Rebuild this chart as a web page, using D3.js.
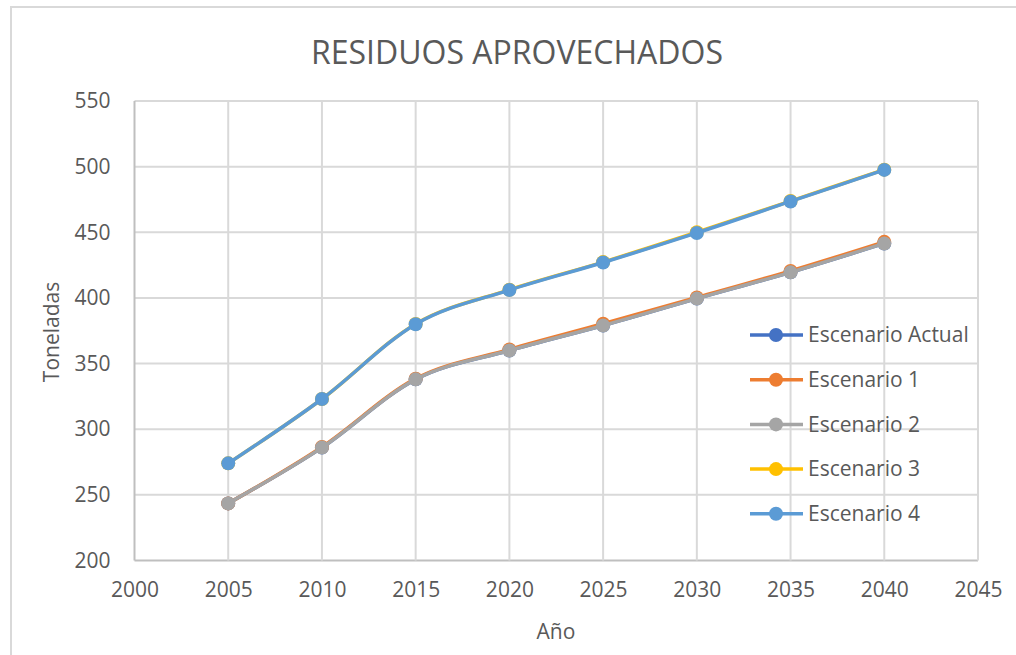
<!DOCTYPE html>
<html>
<head>
<meta charset="utf-8">
<script src="https://cdn.jsdelivr.net/npm/d3@7"></script>
<style>
  html, body { margin: 0; padding: 0; background: #fff; }
  svg { display: block; }
</style>
</head>
<body>
<script>
'use strict';

const WIDTH = 1016;
const HEIGHT = 655;

const TITLE = 'RESIDUOS APROVECHADOS';
const X_TITLE = 'Año';
const Y_TITLE = 'Toneladas';

const YEARS = [2005, 2010, 2015, 2020, 2025, 2030, 2035, 2040];
const X_TICKS = [2000, 2005, 2010, 2015, 2020, 2025, 2030, 2035, 2040, 2045];
const Y_TICKS = [200, 250, 300, 350, 400, 450, 500, 550];

const SERIES_NAMES = ['Escenario Actual', 'Escenario 1', 'Escenario 2', 'Escenario 3', 'Escenario 4'];
const SERIES_COLORS = ['#4472C4', '#ED7D31', '#A5A5A5', '#FFC000', '#5B9BD5'];

const ACTUAL = [243.5, 286, 338, 360, 379, 399.5, 419.5, 441.5];
const ESC_1 = [243.5, 286.5, 338.5, 360.8, 380.3, 400.3, 420.6, 442.7];
const ESC_2 = [243.5, 286, 338, 360, 379, 399.5, 419.5, 441.5];
const ESC_3 = [274, 323, 380.2, 406.2, 427.3, 450, 473.8, 497.7];
const ESC_4 = [274, 323, 380, 406, 427, 449.5, 473.5, 497.5];

const SERIES_VALUES = [ACTUAL, ESC_1, ESC_2, ESC_3, ESC_4];

const PLOT_LEFT = 134.5;
const PLOT_RIGHT = 978;
const PLOT_TOP = 101;
const PLOT_BOTTOM = 560.5;

const TEXT_COLOR = '#595959';
const GRID_COLOR = '#d9d9d9';
const AXIS_COLOR = '#bfbfbf';
const FONT = '"Open Sans", "Liberation Sans", sans-serif';

function main() {
    let svg = d3.select('body')
            .append('svg')
            .attr('width', WIDTH)
            .attr('height', HEIGHT)
            .style('font-family', FONT);

    // Chart frame (only the top and left edges are in view).
    svg.append('path')
            .attr('d', `M11,${HEIGHT} L11,7 L${WIDTH},7`)
            .attr('fill', 'none')
            .attr('stroke', GRID_COLOR)
            .attr('stroke-width', 2);

    const x = d3.scaleLinear()
            .domain([2000, 2045])
            .range([PLOT_LEFT, PLOT_RIGHT]);

    const y = d3.scaleLinear()
            .domain([200, 550])
            .range([PLOT_BOTTOM, PLOT_TOP]);

    // Gridlines.
    let grid = svg.append('g');
    grid.selectAll('line.h')
            .data(Y_TICKS)
            .enter()
            .append('line')
            .attr('x1', PLOT_LEFT)
            .attr('x2', PLOT_RIGHT)
            .attr('y1', d => y(d))
            .attr('y2', d => y(d))
            .attr('stroke', d => d === 200 ? AXIS_COLOR : GRID_COLOR)
            .attr('stroke-width', 2);
    grid.selectAll('line.v')
            .data(X_TICKS)
            .enter()
            .append('line')
            .attr('y1', PLOT_TOP)
            .attr('y2', PLOT_BOTTOM)
            .attr('x1', d => x(d))
            .attr('x2', d => x(d))
            .attr('stroke', d => d === 2000 ? AXIS_COLOR : GRID_COLOR)
            .attr('stroke-width', 2);

    // Axes labels via d3 axes, lines hidden.
    let yAxis = svg.append('g')
            .attr('transform', `translate(${PLOT_LEFT},0)`)
            .call(d3.axisLeft(y).tickValues(Y_TICKS).tickSize(0).tickPadding(24));
    let xAxis = svg.append('g')
            .attr('transform', `translate(0,${PLOT_BOTTOM})`)
            .call(d3.axisBottom(x).tickValues(X_TICKS).tickFormat(d3.format('d')).tickSize(0).tickPadding(22));

    [xAxis, yAxis].forEach(function(axis) {
        axis.select('.domain').remove();
        axis.selectAll('text')
                .attr('fill', TEXT_COLOR)
                .style('font-family', FONT)
                .style('font-size', '21px');
    });

    // Title and axis titles.
    svg.append('text')
            .attr('x', 517)
            .attr('y', 64)
            .attr('text-anchor', 'middle')
            .attr('fill', TEXT_COLOR)
            .style('font-size', '32px')
            .text(TITLE);

    svg.append('text')
            .attr('x', 556)
            .attr('y', 639)
            .attr('text-anchor', 'middle')
            .attr('fill', TEXT_COLOR)
            .style('font-size', '21px')
            .text(X_TITLE);

    svg.append('text')
            .attr('transform', 'translate(59,332) rotate(-90)')
            .attr('text-anchor', 'middle')
            .attr('fill', TEXT_COLOR)
            .style('font-size', '21px')
            .text(Y_TITLE);

    // Series.
    const line = d3.line()
            .x(d => x(d.year))
            .y(d => y(d.value))
            .curve(d3.curveCardinal.tension(0));

    SERIES_NAMES.forEach(function(name, i) {
        let points = YEARS.map((year, j) => ({ year: year, value: SERIES_VALUES[i][j] }));
        let g = svg.append('g');

        g.append('path')
                .datum(points)
                .attr('d', line)
                .attr('fill', 'none')
                .attr('stroke', SERIES_COLORS[i])
                .attr('stroke-width', 3.5)
                .attr('stroke-linecap', 'round');

        g.selectAll('circle')
                .data(points)
                .enter()
                .append('circle')
                .attr('cx', d => x(d.year))
                .attr('cy', d => y(d.value))
                .attr('r', 7)
                .attr('fill', SERIES_COLORS[i]);
    });

    // Legend.
    let legend = svg.append('g');
    SERIES_NAMES.forEach(function(name, i) {
        let rowY = 335 + i * 44.7;
        legend.append('line')
                .attr('x1', 750)
                .attr('x2', 803)
                .attr('y1', rowY)
                .attr('y2', rowY)
                .attr('stroke', SERIES_COLORS[i])
                .attr('stroke-width', 3.5);
        legend.append('circle')
                .attr('cx', 776)
                .attr('cy', rowY)
                .attr('r', 7)
                .attr('fill', SERIES_COLORS[i]);
        legend.append('text')
                .attr('x', 808)
                .attr('y', rowY)
                .attr('dy', '0.35em')
                .attr('fill', TEXT_COLOR)
                .style('font-size', '21px')
                .text(name);
    });
}

document.addEventListener('DOMContentLoaded', function(event) {
    main();
});
</script>
</body>
</html>
